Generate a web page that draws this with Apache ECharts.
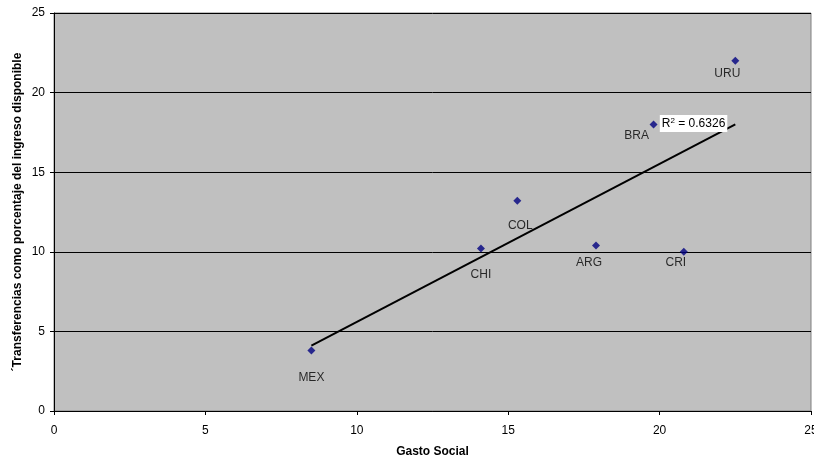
<!DOCTYPE html>
<html><head><meta charset="utf-8">
<script src="https://cdn.jsdelivr.net/npm/echarts@6/dist/echarts.min.js"></script>
<style>html,body{margin:0;padding:0;background:#fff}#c{width:814px;height:459px}</style>
</head><body><div id="c"></div>
<script>
var countries = ['URU','BRA','MEX','COL','CHI','ARG','CRI'];
var gastoSocial = [22.5, 19.8, 8.5, 15.3, 14.1, 17.9, 20.8];
var transferencias = [22.0, 18.0, 3.8, 13.2, 10.2, 10.4, 10.0];
var trendX = [8.5, 22.5];
var trendY = [4.1, 18.0];
var rSquared = '0.6326';
var xTicks = [0, 5, 10, 15, 20, 25];
var yTicks = [0, 5, 10, 15, 20, 25];

var labelOffsets = {URU:[-8,13], BRA:[-17,11], MEX:[0,27], COL:[3,25], CHI:[0,26], ARG:[-7,17], CRI:[-8,11]};
var FONT = '"Liberation Sans", Arial, sans-serif';

var pts = countries.map(function(c,i){
  return {value:[gastoSocial[i], transferencias[i]], name:c,
    label:{show:true, formatter:c, position:'inside', offset:labelOffsets[c]}};
});

var chart = echarts.init(document.getElementById('c'), null, {renderer:'canvas'});
chart.setOption({
  animation:false,
  textStyle:{fontFamily:FONT},
  grid:{left:54, right:3, top:13, bottom:48, show:true, backgroundColor:'#c0c0c0', borderColor:'#808080', borderWidth:1,
        containLabel:false, outerBoundsMode:'none'},
  xAxis:{type:'value', min:xTicks[0], max:xTicks[xTicks.length-1], interval:5,
    name:'Gasto Social', nameLocation:'middle', nameGap:35, nameMoveOverlap:false,
    nameTextStyle:{fontFamily:FONT, fontSize:12, fontWeight:'bold', color:'#000'},
    axisLine:{show:true, onZero:false, lineStyle:{color:'#000', width:1}},
    axisTick:{show:true, length:4, lineStyle:{color:'#000'}},
    axisLabel:{fontFamily:FONT, fontSize:12, color:'#000', margin:14},
    splitLine:{show:false}},
  yAxis:{type:'value', min:yTicks[0], max:yTicks[yTicks.length-1], interval:5,
    name:'´Transferencias como porcentaje del ingreso disponible', nameLocation:'middle', nameGap:30, nameMoveOverlap:false,
    nameTextStyle:{fontFamily:FONT, fontSize:12, fontWeight:'bold', color:'#000'},
    axisLine:{show:true, onZero:false, lineStyle:{color:'#000', width:1}},
    axisTick:{show:true, length:4, lineStyle:{color:'#000'}},
    axisLabel:{fontFamily:FONT, fontSize:12, color:'#000', margin:9},
    splitLine:{show:true, lineStyle:{color:'#000', width:1}}},
  series:[
    {type:'line', data:trendX.map(function(x,i){return [x,trendY[i]];}), symbol:'none',
     lineStyle:{color:'#000', width:2}, z:2,
     markPoint:{symbol:'rect', symbolSize:0, data:[{coord:[trendX[1], trendY[1]],
       label:{show:true, position:'left', offset:[-3,-1], backgroundColor:'#fff', padding:[2,2,1,2],
         formatter:'R{s|2} = '+rSquared,
         rich:{s:{fontSize:8, verticalAlign:'top', padding:[0,0,6,0], color:'#000', fontFamily:FONT}},
         fontFamily:FONT, fontSize:12, color:'#000'}}]}},
    {type:'scatter', data:pts, symbol:'diamond', symbolSize:8,
     itemStyle:{color:'#000080'}, z:3,
     label:{fontFamily:FONT, fontSize:12, color:'#000'}}
  ]
});
</script></body></html>
